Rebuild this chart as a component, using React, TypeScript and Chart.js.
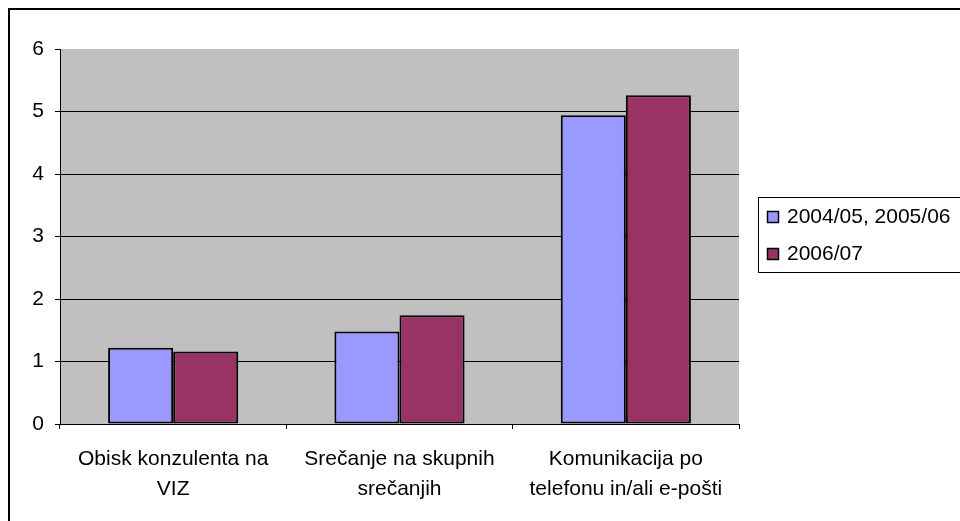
import React, { useEffect, useRef } from "react";
import { Chart, registerables } from "chart.js";

Chart.register(...registerables);

const categories: string[][] = [
  ["Obisk konzulenta na", "VIZ"],
  ["Srečanje na skupnih", "srečanjih"],
  ["Komunikacija po", "telefonu in/ali e-pošti"],
];
const seriesNames = ["2004/05, 2005/06", "2006/07"];
const series1 = [1.22, 1.48, 4.94];
const series2 = [1.16, 1.74, 5.26];
const seriesColors = ["#9999FF", "#993366"];
const yTicks = [0, 1, 2, 3, 4, 5, 6];

const FONT = "'Liberation Sans', Arial, sans-serif";

const framePlugin = {
  id: "frame",
  beforeDraw(chart: any) {
    const { ctx, chartArea } = chart;
    ctx.save();
    ctx.fillStyle = "#fff";
    ctx.fillRect(0, 0, chart.width, chart.height);
    ctx.fillStyle = "#C0C0C0";
    ctx.fillRect(chartArea.left, chartArea.top, chartArea.right - chartArea.left, chartArea.bottom - chartArea.top);
    ctx.restore();
  },
  afterDraw(chart: any) {
    const { ctx } = chart;
    ctx.save();
    ctx.strokeStyle = "#000";
    ctx.lineWidth = 2;
    ctx.strokeRect(9, 9, chart.width + 20, chart.height + 20);
    ctx.lineWidth = 1;
    ctx.strokeRect(758.5, 197.5, 300, 75);
    ctx.font = `21px ${FONT}`;
    ctx.textBaseline = "middle";
    ctx.textAlign = "left";
    chart.data.datasets.forEach((ds: any, i: number) => {
      const cy = 217 + i * 37;
      ctx.fillStyle = ds.backgroundColor;
      ctx.fillRect(767, cy - 5.5, 11, 11);
      ctx.strokeStyle = "#000";
      ctx.lineWidth = 1.5;
      ctx.strokeRect(767.5, cy - 5.5, 11, 11);
      ctx.fillStyle = "#000";
      ctx.fillText(ds.label, 787, cy);
    });
    ctx.restore();
  },
};

export default function App() {
  const ref = useRef<HTMLCanvasElement>(null);
  useEffect(() => {
    if (!ref.current) return;
    const ds = (i: number, data: number[]) => ({
      label: seriesNames[i],
      data,
      backgroundColor: seriesColors[i],
      borderColor: "#000",
      borderWidth: 2,
      borderSkipped: false,
      barPercentage: 1,
      categoryPercentage: 0.575,
    });
    const chart = new Chart(ref.current, {
      type: "bar",
      data: {
        labels: categories,
        datasets: [ds(0, series1), ds(1, series2)],
      },
      options: {
        animation: false,
        responsive: false,
        devicePixelRatio: 1,
        layout: { padding: { left: 0, top: 49, right: 221, bottom: 0 } },
        plugins: { legend: { display: false }, tooltip: { enabled: false } },
        scales: {
          x: {
            afterFit: (s: any) => {
              s.height = 521 - 424;
            },
            grid: {
              drawOnChartArea: false,
              color: "#000",
              tickColor: "#000",
              tickLength: 5,
              offset: true,
            },
            border: { color: "#000", width: 1 },
            ticks: {
              color: "#000",
              font: { family: FONT, size: 21, lineHeight: 1.45 },
              maxRotation: 0,
              autoSkip: false,
              padding: 15,
            },
          },
          y: {
            min: 0,
            max: 6,
            afterFit: (s: any) => {
              s.width = 60;
            },
            afterBuildTicks: (s: any) => {
              s.ticks = yTicks.map((v) => ({ value: v }));
            },
            grid: {
              color: (c: any) => (c.tick && c.tick.value === 6 ? "rgba(0,0,0,0)" : "#000"),
              tickColor: "#000",
              tickLength: 5,
            },
            border: { color: "#000", width: 1 },
            ticks: {
              color: "#000",
              font: { family: FONT, size: 21 },
              padding: 11,
            },
          },
        },
      },
      plugins: [framePlugin],
    });
    return () => chart.destroy();
  }, []);
  return (
    <div style={{ position: "fixed", left: 0, top: 0, width: 960, height: 521 }}>
      <canvas ref={ref} width={960} height={521} style={{ width: 960, height: 521, display: "block" }} />
    </div>
  );
}
